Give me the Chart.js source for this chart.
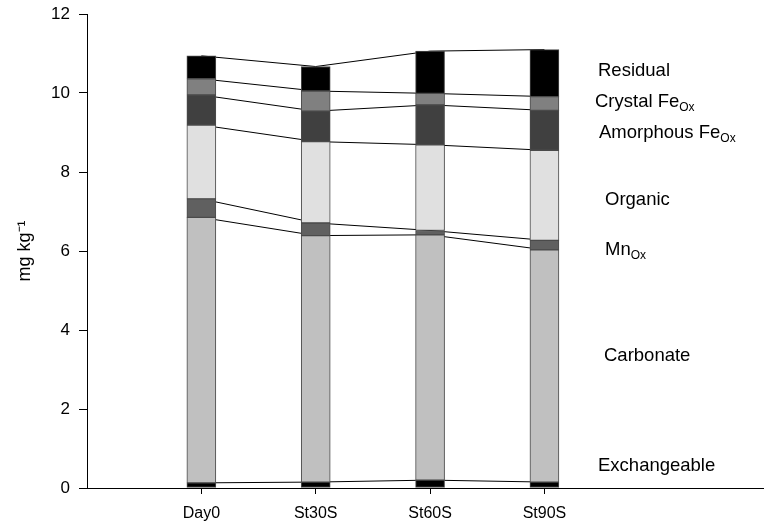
<!DOCTYPE html>
<html>
<head>
<meta charset="utf-8">
<script src="https://cdn.jsdelivr.net/npm/chart.js@4/dist/chart.umd.min.js"></script>
<style>
  html, body { margin: 0; padding: 0; background: #fff; }
  #wrap { width: 764px; height: 530px; }
</style>
</head>
<body>
<div id="wrap"><canvas id="frac"></canvas></div>
<script>
// sample days
const categories = ["Day0", "St30S", "St60S", "St90S"];
const xPos = [1, 2, 3, 4];

// fractions, mg/kg (bottom to top)
const exchangeable = [0.13, 0.15, 0.20, 0.15];
const carbonate    = [6.72, 6.24, 6.21, 5.88];
const mnOx         = [0.47, 0.32, 0.11, 0.24];
const organic      = [1.87, 2.06, 2.17, 2.28];
const amorphousFe  = [0.76, 0.77, 1.01, 1.01];
const crystalFe    = [0.41, 0.51, 0.29, 0.35];
const residual     = [0.58, 0.62, 1.07, 1.19];

const yTicks = [0, 2, 4, 6, 8, 10, 12];

const layers = [
  { name: "Exchangeable", vals: exchangeable, color: "#000000" },
  { name: "Carbonate", vals: carbonate, color: "#c0c0c0" },
  { name: "MnOx", vals: mnOx, color: "#606060" },
  { name: "Organic", vals: organic, color: "#e0e0e0" },
  { name: "Amorphous FeOx", vals: amorphousFe, color: "#404040" },
  { name: "Crystal FeOx", vals: crystalFe, color: "#808080" },
  { name: "Residual", vals: residual, color: "#000000" }
];

window.onload = function(){
  frac_draw();
}

function frac_draw() {
  let datasets = [];
  let base = [0, 0, 0, 0];
  layers.forEach(function(l) {
    let top = base.map((b, i) => b + l.vals[i]);
    let lo = base.slice();
    // floating bar for this fraction
    datasets.push({
      type: 'bar',
      label: l.name,
      data: xPos.map((x, i) => ({ x: x, y: [lo[i], top[i]] })),
      backgroundColor: l.color,
      borderColor: "#4a4a4a",
      borderWidth: 1,
      borderSkipped: false,
      barThickness: 29,
      grouped: false,
      order: 1
    });
    // connecting line at the top of this fraction (hidden behind bars)
    datasets.push({
      type: 'line',
      label: l.name + " line",
      data: xPos.map((x, i) => ({ x: x, y: top[i] })),
      borderColor: "#000000",
      borderWidth: 1,
      pointRadius: 0,
      tension: 0,
      fill: false,
      order: 2
    });
    base = top;
  });

  // text labels on the right, with subscripts
  const sideLabels = [
    { parts: [["Residual", 0]], x: 598, y: 71 },
    { parts: [["Crystal Fe", 0], ["Ox", 1]], x: 595, y: 102 },
    { parts: [["Amorphous Fe", 0], ["Ox", 1]], x: 599, y: 133 },
    { parts: [["Organic", 0]], x: 605, y: 200 },
    { parts: [["Mn", 0], ["Ox", 1]], x: 605, y: 250 },
    { parts: [["Carbonate", 0]], x: 604, y: 356 },
    { parts: [["Exchangeable", 0]], x: 598, y: 466 }
  ];

  const labelPlugin = {
    id: 'sideLabels',
    afterDraw(chart) {
      const ctx = chart.ctx;
      ctx.save();
      ctx.fillStyle = "#000";
      ctx.textBaseline = "middle";
      ctx.textAlign = "left";
      sideLabels.forEach(function(s) {
        let x = s.x;
        s.parts.forEach(function(p) {
          if (p[1]) {
            ctx.font = "12px 'Liberation Sans', Arial, sans-serif";
            ctx.fillText(p[0], x, s.y + 6);
          } else {
            ctx.font = "18.5px 'Liberation Sans', Arial, sans-serif";
            ctx.fillText(p[0], x, s.y);
          }
          x += ctx.measureText(p[0]).width;
        });
      });
      ctx.restore();
    }
  };

  let context = document.querySelector("#frac").getContext('2d');
  new Chart(context, {
    data: { datasets: datasets },
    plugins: [labelPlugin],
    options: {
      responsive: true,
      maintainAspectRatio: false,
      animation: false,
      layout: { padding: { top: 14, right: 0, left: 0, bottom: 0 } },
      plugins: {
        legend: { display: false },
        tooltip: { enabled: false }
      },
      scales: {
        x: {
          type: 'linear',
          min: 0,
          max: 5.92,
          offset: false,
          afterBuildTicks: function(scale) {
            scale.ticks = xPos.map(v => ({ value: v }));
          },
          afterFit: function(scale) { scale.height = 42; },
          ticks: {
            color: "#000",
            font: { family: "'Liberation Sans', Arial, sans-serif", size: 16 },
            padding: 10,
            maxRotation: 0,
            callback: function(v) { return categories[xPos.indexOf(v)]; }
          },
          grid: { display: true, offset: false, drawOnChartArea: false, drawTicks: true, tickLength: 6, color: "#000" },
          border: { display: true, color: "#000", width: 1 }
        },
        y: {
          min: 0,
          max: 12,
          afterBuildTicks: function(scale) {
            scale.ticks = yTicks.map(v => ({ value: v }));
          },
          afterFit: function(scale) {
            scale.width = 87;
            scale.paddingTop = 0;
            scale.paddingBottom = 0;
          },
          ticks: {
            color: "#000",
            font: { family: "'Liberation Sans', Arial, sans-serif", size: 17 },
            padding: 9
          },
          title: {
            display: true,
            text: "mg kg\u207B\u00B9",
            color: "#000",
            font: { family: "'Liberation Sans', Arial, sans-serif", size: 18 },
            padding: { top: 14, bottom: 12 }
          },
          grid: { display: true, drawOnChartArea: false, drawTicks: true, tickLength: 8, color: "#000" },
          border: { display: true, color: "#000", width: 1 }
        }
      }
    }
  });
}
</script>
</body>
</html>
